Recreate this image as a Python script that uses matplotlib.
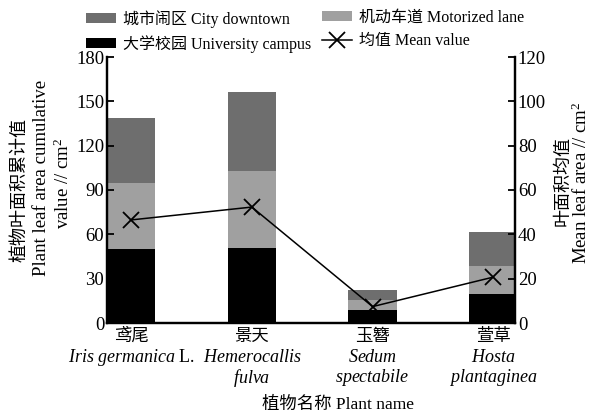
import matplotlib
matplotlib.use('Agg')
import matplotlib.pyplot as plt
import numpy as np
from matplotlib.transforms import blended_transform_factory

# ---- data ----
plants_cn = ['鸢尾', '景天', '玉簪', '萱草']
latin_line1 = ['Iris germanica', 'Hemerocallis', 'Sedum', 'Hosta']
latin_auth = ['L.', '', '', '']
latin_line2 = ['', 'fulva', 'spectabile', 'plantaginea']
campus = [50, 51, 9, 19.5]          # 大学校园 University campus
motor = [45, 52, 6.6, 19.1]         # 机动车道 Motorized lane
city = [44, 53, 6.7, 22.8]          # 城市闹区 City downtown
mean_vals = [46.5, 52.3, 7.4, 20.7] # 均值 Mean value
left_ticks = [0, 30, 60, 90, 120, 150, 180]
right_ticks = [0, 20, 40, 60, 80, 100, 120]

plt.rcParams['font.family'] = ['Liberation Serif', 'Noto Sans CJK SC']
plt.rcParams['mathtext.fontset'] = 'custom'
plt.rcParams['mathtext.it'] = 'Liberation Serif:italic'
plt.rcParams['mathtext.rm'] = 'Liberation Serif'

fig = plt.figure(figsize=(5.91, 4.18), dpi=100)
ax = fig.add_axes([107/591, 1-323/418, (515-107)/591, (323-57)/418])
ax2 = ax.twinx()

x = np.arange(len(plants_cn))
w = 0.4
c_dark, c_light = '#6e6e6e', '#a0a0a0'
b1 = ax.bar(x, campus, w, color='black')
b2 = ax.bar(x, motor, w, bottom=campus, color=c_light)
bottom2 = np.array(campus) + np.array(motor)
b3 = ax.bar(x, city, w, bottom=bottom2, color=c_dark)
ln, = ax2.plot(x, mean_vals, color='black', lw=1.1, marker='x', ms=12, mew=1.3)

ax.set_xlim(-0.2, 3.18)
ax.set_ylim(0, 180)
ax2.set_ylim(0, 120)
ax.set_yticks(left_ticks)
ax2.set_yticks(right_ticks)
ax.set_xticks([])
for a in (ax, ax2):
    a.spines['top'].set_visible(False)
    for s in a.spines.values():
        s.set_linewidth(1.6)
    a.tick_params(axis='y', direction='in', length=5, width=1.3, labelsize=13.5, pad=2)

ax.set_zorder(1)
ax2.set_zorder(2)
ax2.patch.set_visible(False)

trans = blended_transform_factory(ax.transData, ax.transAxes)
ah = 266.0
for i in range(len(plants_cn)):
    ax.text(x[i], -(337-323)/ah, plants_cn[i], transform=trans, ha='center', va='center',
            fontsize=12.5)
    s = '$\\it{' + latin_line1[i].replace(' ', '\\ ') + '}$'
    if latin_auth[i]:
        s += ' ' + latin_auth[i]
    ax.text(x[i], -(357-323)/ah, s, transform=trans, ha='center', va='center', fontsize=13)
    if latin_line2[i]:
        ax.text(x[i], -(378-323)/ah, '$\\it{' + latin_line2[i] + '}$', transform=trans,
                ha='center', va='center', fontsize=13)

fig.text(338/591, 1-405/418, '植物名称 Plant name', ha='center', va='center', fontsize=12.5)
fig.text(20/591, 1-190/418, '植物叶面积累计值', rotation=90, ha='center', va='center', fontsize=13)
fig.text(42/591, 1-178/418, 'Plant leaf area cumulative', rotation=90, ha='center', va='center', fontsize=13.5)
fig.text(63/591, 1-183/418, 'value // cm$^2$', rotation=90, ha='center', va='center', fontsize=13.5)
fig.text(563/591, 1-181/418, '叶面积均值', rotation=90, ha='center', va='center', fontsize=13)
fig.text(581/591, 1-183/418, 'Mean leaf area // cm$^2$', rotation=90, ha='center', va='center', fontsize=13.5)

leg_kw = dict(loc='upper left', frameon=False, fontsize=11.5, handlelength=1.9,
              handleheight=0.6, handletextpad=0.4, labelspacing=0.45,
              borderaxespad=0.0, borderpad=0.0)
leg1 = fig.legend([b3, b1], ['城市闹区 City downtown', '大学校园 University campus'],
                  bbox_to_anchor=(86/591, 1-10/418), **leg_kw)
leg2 = fig.legend([b2, ln], ['机动车道 Motorized lane', '均值 Mean value'],
                  bbox_to_anchor=(322/591, 1-10/418), **leg_kw)

fig.savefig('out.png', dpi=100)
